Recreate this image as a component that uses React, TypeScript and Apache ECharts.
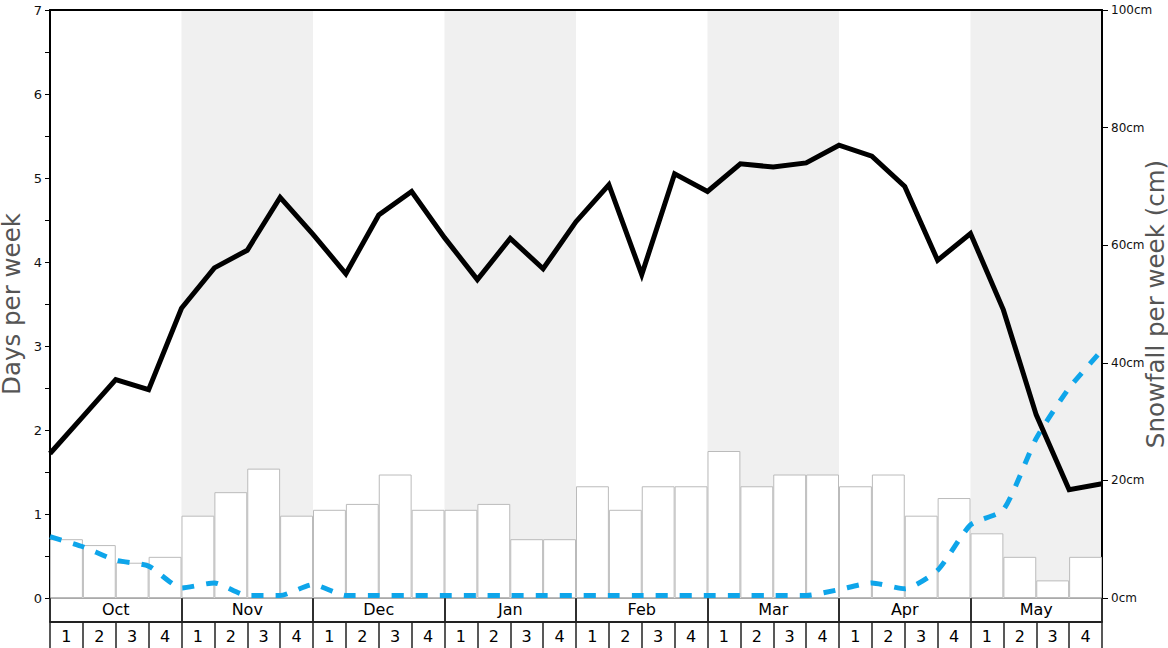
import React, { useEffect, useRef } from "react";
import * as echarts from "echarts";

const months = ["Oct", "Nov", "Dec", "Jan", "Feb", "Mar", "Apr", "May"];
const weeks = months.flatMap(() => ["1", "2", "3", "4"]);

// snowfall per week (cm) - bars, right axis
const snowfallCm = [10, 9, 6, 7, 14, 18, 22, 14, 15, 16, 21, 15, 15, 16, 10, 10, 19, 15, 19, 19, 25, 19, 21, 21, 19, 21, 14, 17, 11, 7, 3, 7];

// days per week - black line (values at week boundaries)
const snowDays = [1.72, 2.16, 2.6, 2.48, 3.45, 3.93, 4.14, 4.77, 4.33, 3.86, 4.56, 4.84, 4.29, 3.79, 4.28, 3.92, 4.48, 4.92, 3.85, 5.05, 4.84, 5.17, 5.13, 5.18, 5.39, 5.26, 4.9, 4.02, 4.34, 3.43, 2.18, 1.29, 1.36];

// days per week - blue dashed line
const rainDays = [0.73, 0.61, 0.45, 0.38, 0.12, 0.18, 0.03, 0.03, 0.16, 0.03, 0.03, 0.03, 0.03, 0.03, 0.03, 0.03, 0.03, 0.03, 0.03, 0.03, 0.03, 0.03, 0.03, 0.03, 0.1, 0.18, 0.11, 0.33, 0.87, 1.05, 1.9, 2.5, 2.95];

export default function App() {
  const ref = useRef<HTMLDivElement>(null);
  useEffect(() => {
    document.body.style.margin = "0";
    const chart = echarts.init(ref.current!, null, { renderer: "svg" });
    const font = "DejaVu Sans";
    const g = { left: 50, right: 66, containLabel: false, outerBoundsMode: "none" };
    chart.setOption({
      animation: false,
      textStyle: { fontFamily: font },
      grid: [
        { ...g, top: 10, height: 588 },
        { ...g, top: 598, height: 24 },
        { ...g, top: 622, height: 30 },
      ],
      xAxis: [
        // 0: weeks for bars (hidden)
        { type: "category", gridIndex: 0, data: weeks, show: false, boundaryGap: true },
        // 1: months for background bands
        {
          type: "category",
          gridIndex: 0,
          data: months,
          position: "bottom",
          boundaryGap: true,
          axisLine: { show: true, onZero: false, lineStyle: { color: "#aaa", width: 1 } },
          axisTick: { show: false },
          axisLabel: { show: false },
          splitLine: { show: false },
          splitArea: { show: true, interval: 0, areaStyle: { color: ["rgba(0,0,0,0)", "#f0f0f0"] } },
        },
        // 2: value axis for lines, top border
        {
          type: "value",
          gridIndex: 0,
          min: 0,
          max: 32,
          position: "top",
          axisLine: { show: true, onZero: false, lineStyle: { color: "#000", width: 2 } },
          axisTick: { show: false },
          axisLabel: { show: false },
          splitLine: { show: false },
        },
        // 3: month row
        {
          type: "category",
          gridIndex: 1,
          data: months,
          position: "top",
          boundaryGap: true,
          axisLine: { show: true, onZero: false, lineStyle: { color: "#aaa", width: 1 } },
          axisTick: { show: true, inside: true, interval: 0, length: 24, lineStyle: { color: "#222", width: 1.5 } },
          axisLabel: { inside: true, interval: 0, margin: 3, fontSize: 16, color: "#000", fontFamily: font },
          splitLine: { show: true, interval: 0, lineStyle: { color: "#222", width: 1.5 } },
        },
        // 4: week row
        {
          type: "category",
          gridIndex: 2,
          data: weeks,
          position: "top",
          boundaryGap: true,
          axisLine: { show: true, onZero: false, lineStyle: { color: "#222", width: 2 } },
          axisTick: { show: true, inside: true, interval: 0, length: 30, lineStyle: { color: "#222", width: 1.5 } },
          axisLabel: { inside: true, interval: 0, margin: 6, fontSize: 16, color: "#000", fontFamily: font },
          splitLine: { show: false },
        },
      ],
      yAxis: [
        {
          type: "value",
          gridIndex: 0,
          min: 0,
          max: 7,
          interval: 0.5,
          position: "left",
          name: "Days per week",
          nameLocation: "middle",
          nameRotate: 90,
          nameGap: 26,
          nameMoveOverlap: false,
          nameTextStyle: { fontSize: 24.5, color: "#555", fontFamily: font },
          axisLine: { show: true, onZero: false, lineStyle: { color: "#000", width: 2 } },
          axisTick: { show: true, length: 5, lineStyle: { color: "#000" } },
          axisLabel: {
            fontSize: 13,
            color: "#111",
            margin: 8,
            fontFamily: font,
            formatter: (v: number) => (Number.isInteger(v) ? String(v) : ""),
          },
          splitLine: { show: false },
        },
        {
          type: "value",
          gridIndex: 0,
          min: 0,
          max: 100,
          interval: 20,
          position: "right",
          name: "Snowfall per week (cm)",
          nameLocation: "middle",
          nameRotate: 90,
          nameGap: 41,
          nameMoveOverlap: false,
          nameTextStyle: { fontSize: 24.5, color: "#555", fontFamily: font },
          axisLine: { show: true, onZero: false, lineStyle: { color: "#000", width: 2 } },
          axisTick: { show: true, length: 6, lineStyle: { color: "#000" } },
          axisLabel: { fontSize: 12, color: "#111", margin: 9, formatter: "{value}cm", fontFamily: font },
          splitLine: { show: false },
        },
        { type: "value", gridIndex: 1, show: false },
        { type: "value", gridIndex: 2, show: false },
      ],
      series: [
        {
          name: "Snowfall",
          type: "bar",
          xAxisIndex: 0,
          yAxisIndex: 1,
          data: snowfallCm,
          barCategoryGap: "0%",
          barGap: "0%",
          itemStyle: { color: "#fff", borderColor: "#bbb", borderWidth: 1 },
        },
        {
          name: "Snow days",
          type: "line",
          xAxisIndex: 2,
          yAxisIndex: 0,
          data: snowDays.map((v, i) => [i, v]),
          symbol: "none",
          lineStyle: { color: "#000", width: 5, join: "miter", miterLimit: 10 },
          z: 4,
        },
        {
          name: "Rain days",
          type: "line",
          xAxisIndex: 2,
          yAxisIndex: 0,
          data: rainDays.map((v, i) => [i, v]),
          symbol: "none",
          smooth: 0.2,
          lineStyle: { color: "#0ea5ea", width: 5, type: [12, 12], cap: "butt" },
          z: 3,
        },
      ],
    });
    return () => chart.dispose();
  }, []);
  return <div ref={ref} style={{ width: 1168, height: 648, position: "absolute", left: 0, top: 0 }} />;
}
